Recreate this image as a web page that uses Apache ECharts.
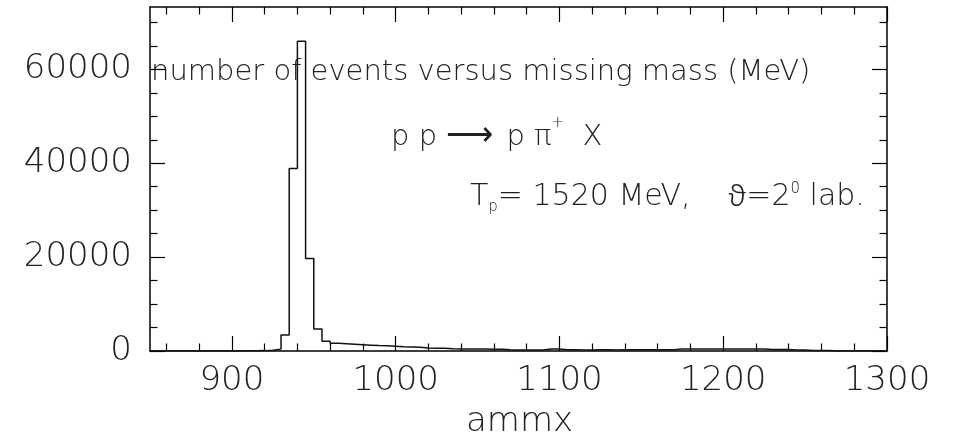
<!DOCTYPE html>
<html>
<head>
<meta charset="utf-8">
<script src="https://cdn.jsdelivr.net/npm/echarts@6/dist/echarts.min.js"></script>
<style>
  html, body { margin: 0; padding: 0; background: #fff; }
  #chart { width: 954px; height: 441px; }
</style>
</head>
<body>
<div id="chart"></div>
<script>
// histogram: 5 MeV bins starting at 850 MeV
const binLow = 850
const binWidth = 5
const counts = [
  0, 0, 0, 0, 0, 0, 0, 0, 0, 0,
  20, 30, 50, 80, 150, 400, 3400, 38900, 66000, 19700,
  4700, 2100, 1650, 1550, 1450, 1350, 1250, 1150, 1100, 1000,
  900, 850, 800, 650, 600, 600, 500, 450, 450, 450,
  400, 350, 350, 250, 200, 200, 200, 200, 450, 450,
  250, 250, 230, 230, 250, 250, 230, 250, 250, 250,
  250, 250, 250, 250, 450, 450, 450, 450, 450, 450,
  450, 450, 450, 450, 450, 300, 300, 300, 200, 200,
  100, 100, 100, 0, 0, 0, 0, 0, 0, 0
]

// axis ticks and labels
const xMajor = [900, 1000, 1100, 1200, 1300]
const xMinor = [860, 880, 920, 940, 960, 980, 1020, 1040, 1060, 1080,
  1120, 1140, 1160, 1180, 1220, 1240, 1260, 1280]
const yMajor = [0, 20000, 40000, 60000]
const yMinor = [5000, 10000, 15000, 25000, 30000, 35000, 45000, 50000, 55000, 65000, 70000]

const font = "'DejaVu Sans', sans-serif"
const ink = '#222'

// left edges of the bins, plus the closing edge
const histData = counts.map((c, i) => [binLow + i * binWidth, c])
histData.push([binLow + counts.length * binWidth, counts[counts.length - 1]])

const myChart = echarts.init(document.getElementById('chart'))

// one axis per edge for major ticks, one per edge for minor ticks
const makeX = (pos, ticks, len, withLine, withLabel) => ({
  type: 'value',
  position: pos,
  min: 850,
  max: 1300,
  interval: 10,
  splitLine: { show: false },
  axisLine: { show: withLine, onZero: false, lineStyle: { color: '#000', width: 1.5 } },
  axisTick: { show: true, inside: true, length: len, customValues: ticks, lineStyle: { color: '#000', width: 1.2 } },
  axisLabel: {
    show: withLabel,
    customValues: xMajor,
    formatter: v => String(v),
    margin: 13,
    fontFamily: font,
    fontWeight: 200,
    fontSize: 34,
    color: ink
  }
})

const makeY = (pos, ticks, len, withLine, withLabel) => ({
  type: 'value',
  position: pos,
  min: 0,
  max: 73300,
  interval: 5000,
  splitLine: { show: false },
  axisLine: { show: withLine, onZero: false, lineStyle: { color: '#000', width: 1.5 } },
  axisTick: { show: true, inside: true, length: len, customValues: ticks, lineStyle: { color: '#000', width: 1.2 } },
  axisLabel: {
    show: withLabel,
    customValues: yMajor,
    formatter: v => String(v),
    margin: 18,
    fontFamily: font,
    fontWeight: 200,
    fontSize: 34,
    color: ink
  }
})

const txt = (size, extra) => Object.assign({ fontSize: size, fontFamily: font, fontWeight: 200, fill: ink }, extra)

const option = {
  animation: false,
  grid: { left: 150, right: 67, top: 7, bottom: 90 },
  xAxis: [
    makeX('bottom', xMajor, 15, true, true),
    makeX('bottom', xMinor, 7.5, false, false),
    makeX('top', xMajor, 15, true, false),
    makeX('top', xMinor, 7.5, false, false)
  ],
  yAxis: [
    makeY('left', yMajor, 15, true, true),
    makeY('left', yMinor, 7.5, false, false),
    makeY('right', yMajor, 15, true, false),
    makeY('right', yMinor, 7.5, false, false)
  ],
  graphic: [
    {
      type: 'text', left: 151, top: 58,
      style: { text: 'number of events versus missing mass (MeV)', font: '200 29px ' + font, fill: ink }
    },
    {
      type: 'text', left: 391, top: 116,
      style: {
        text: '{n|p p }{a|⟶}{n| p π}{sup|+}{n|  X}',
        font: '200 29px ' + font,
        fill: ink,
        rich: {
          n: txt(29, { lineHeight: 36, verticalAlign: 'bottom' }),
          a: txt(33, { lineHeight: 36, verticalAlign: 'bottom', fontFamily: "'Noto Sans', 'DejaVu Sans', sans-serif", fontWeight: 300, padding: [0, 4, 0, 0] }),
          sup: txt(15, { lineHeight: 22, verticalAlign: 'top' })
        }
      }
    },
    {
      type: 'text', left: 470, top: 182,
      style: {
        text: '{n|T}{sub|p}{n|= 1520 MeV,    }{th|ϑ}{n|=2}{sup|0}{n| lab.}',
        font: '200 30px ' + font,
        fill: ink,
        rich: {
          n: txt(30, { lineHeight: 36, verticalAlign: 'top' }),
          th: txt(30, { lineHeight: 36, verticalAlign: 'top', fontWeight: 300, fontFamily: "'Noto Sans', 'Open Sans', sans-serif" }),
          sub: txt(15, { lineHeight: 34, verticalAlign: 'top', padding: [18, 0, 0, 0] }),
          sup: txt(15, { lineHeight: 22, verticalAlign: 'top' })
        }
      }
    },
    {
      type: 'text', left: 466, top: 405,
      style: { text: 'ammx', font: '200 34px ' + font, fill: ink }
    }
  ],
  series: [{
    type: 'line',
    step: 'end',
    data: histData,
    showSymbol: false,
    lineStyle: { color: '#111', width: 1.5 }
  }]
}

myChart.setOption(option)
</script>
</body>
</html>
